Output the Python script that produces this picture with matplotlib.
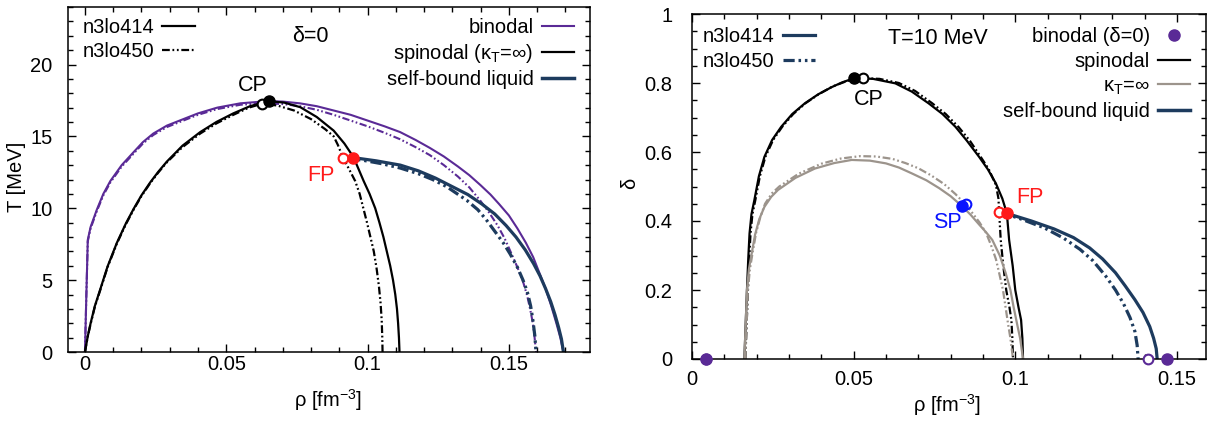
import matplotlib
matplotlib.use("Agg")
import matplotlib.pyplot as plt
from matplotlib.lines import Line2D
from matplotlib.ticker import MultipleLocator, FuncFormatter

plt.rcParams['font.family'] = ['Liberation Sans', 'DejaVu Sans']
plt.rcParams['mathtext.default'] = 'regular'

# ---------------- Left panel data: delta = 0, (rho [fm^-3], T [MeV]) ----------------
binodal414_rho = [0.0, 0.0005, 0.001, 0.002, 0.0042, 0.0065, 0.009, 0.013, 0.0172, 0.0205, 0.0242,
                  0.029, 0.0348, 0.040, 0.0468, 0.055, 0.0645, 0.070, 0.076, 0.082, 0.088, 0.094,
                  0.100, 0.106, 0.1115, 0.117, 0.122, 0.127, 0.132, 0.136, 0.140, 0.1435, 0.1465,
                  0.150, 0.153, 0.156, 0.1586, 0.161, 0.163, 0.165, 0.1668, 0.1682, 0.1693]
binodal414_T = [0.0, 4.0, 7.8, 8.7, 9.9, 11.0, 11.9, 13.0, 13.9, 14.6, 15.2,
                15.75, 16.2, 16.6, 17.0, 17.3, 17.45, 17.42, 17.3, 17.1, 16.8, 16.5,
                16.1, 15.7, 15.3, 14.75, 14.2, 13.6, 12.9, 12.3, 11.6, 10.95, 10.3,
                9.5, 8.6, 7.6, 6.6, 5.4, 4.4, 3.2, 2.0, 1.0, 0.0]
binodal450_rho = [0.0, 0.0005, 0.001, 0.002, 0.0042, 0.0065, 0.009, 0.013, 0.0172, 0.0205, 0.0242,
                  0.029, 0.0348, 0.040, 0.0468, 0.055, 0.063, 0.070, 0.076, 0.082, 0.088, 0.094,
                  0.100, 0.106, 0.1115, 0.117, 0.122, 0.127, 0.132, 0.136, 0.1398, 0.143, 0.146,
                  0.1485, 0.151, 0.153, 0.155, 0.1565, 0.1575, 0.1585, 0.159, 0.1596]
binodal450_T = [0.0, 4.0, 7.7, 8.6, 9.8, 10.9, 11.8, 12.9, 13.8, 14.5, 15.1,
                15.65, 16.1, 16.5, 16.9, 17.2, 17.3, 17.25, 17.1, 16.85, 16.5, 16.1,
                15.7, 15.25, 14.8, 14.25, 13.7, 13.0, 12.2, 11.45, 10.55, 9.7, 8.8,
                7.9, 6.8, 5.9, 4.9, 3.9, 3.0, 2.0, 1.2, 0.0]
spin414_rho = [0.0, 0.001, 0.002, 0.0035, 0.0054, 0.008, 0.0113, 0.0145, 0.0172, 0.020, 0.0231,
               0.026, 0.029, 0.0345, 0.0408, 0.0465, 0.0525, 0.0584, 0.065, 0.0705, 0.0762,
               0.082, 0.088, 0.0918, 0.095, 0.0986, 0.1007, 0.1027, 0.1042, 0.1056, 0.1068,
               0.108, 0.109, 0.1098, 0.1104, 0.1108, 0.1111, 0.1113]
spin414_T = [0.0, 1.1, 2.0, 3.2, 4.35, 5.95, 7.6, 8.95, 9.95, 10.9, 11.8,
             12.55, 13.25, 14.35, 15.3, 16.0, 16.6, 17.1, 17.45, 17.35, 17.03,
             16.35, 15.4, 14.5, 13.56, 11.9, 11.0, 10.0, 9.0, 8.0, 7.0,
             6.0, 5.0, 4.0, 3.0, 2.0, 1.0, 0.0]
spin450_rho = [0.0, 0.001, 0.002, 0.0035, 0.0054, 0.008, 0.0113, 0.0145, 0.0172, 0.020, 0.0231,
               0.026, 0.029, 0.0345, 0.0408, 0.0465, 0.0525, 0.058, 0.0626, 0.068, 0.074,
               0.080, 0.085, 0.088, 0.0895, 0.0913, 0.0935, 0.0956, 0.0972, 0.0985, 0.0998,
               0.101, 0.1022, 0.1032, 0.1040, 0.1046, 0.105, 0.1052, 0.1053]
spin450_T = [0.0, 1.1, 1.95, 3.15, 4.3, 5.9, 7.55, 8.9, 9.9, 10.85, 11.75,
             12.5, 13.2, 14.25, 15.2, 15.9, 16.5, 17.0, 17.27, 17.15, 16.8,
             16.2, 15.5, 15.0, 14.4, 13.52, 12.7, 11.9, 11.0, 10.0, 9.0,
             8.0, 7.0, 5.8, 4.6, 3.4, 2.2, 1.0, 0.0]
sbl414_rho = [0.095, 0.103, 0.1116, 0.118, 0.124, 0.130, 0.1355, 0.1404, 0.145, 0.149, 0.1525,
              0.1558, 0.1587, 0.161, 0.163, 0.1648, 0.1663, 0.1676, 0.1686, 0.1693]
sbl414_T = [13.52, 13.3, 13.0, 12.6, 12.1, 11.5, 10.95, 10.3, 9.6, 8.8, 8.0,
            7.1, 6.16, 5.3, 4.4, 3.5, 2.6, 1.7, 0.9, 0.0]
sbl450_rho = [0.0913, 0.098, 0.105, 0.1115, 0.118, 0.123, 0.128, 0.1351, 0.139, 0.142, 0.145,
              0.148, 0.1505, 0.153, 0.155, 0.1565, 0.1577, 0.1585, 0.1592, 0.1596]
sbl450_T = [13.52, 13.35, 13.1, 12.8, 12.4, 12.0, 11.5, 10.55, 9.9, 9.2, 8.4,
            7.6, 6.8, 5.9, 5.0, 4.2, 3.2, 2.2, 1.1, 0.0]
cp_left_rho = [0.065, 0.0626]   # n3lo414 (filled), n3lo450 (open)
cp_left_T = [17.45, 17.27]
fp_left_rho = [0.095, 0.0913]
fp_left_T = [13.52, 13.52]

# ---------------- Right panel data: T = 10 MeV, (rho [fm^-3], delta) ----------------
spinR414_rho = [0.0162, 0.0166, 0.0170, 0.0174, 0.0178, 0.0184, 0.0193, 0.0207, 0.0224, 0.0248,
                0.0276, 0.031, 0.0349, 0.039, 0.0432, 0.0465, 0.0502, 0.056, 0.0629, 0.068,
                0.0732, 0.0775, 0.0815, 0.085, 0.0888, 0.0915, 0.094, 0.096, 0.0974, 0.0981,
                0.0992, 0.1000, 0.1010, 0.1018, 0.1022, 0.1024]
spinR414_d = [0.0, 0.1, 0.2, 0.29, 0.364, 0.42, 0.461, 0.53, 0.586, 0.635,
              0.673, 0.71, 0.741, 0.767, 0.788, 0.802, 0.814, 0.812, 0.799, 0.775,
              0.741, 0.71, 0.673, 0.633, 0.586, 0.55, 0.509, 0.465, 0.422, 0.345,
              0.27, 0.2, 0.15, 0.113, 0.06, 0.0]
spinR450_rho = [0.0165, 0.0169, 0.0173, 0.0177, 0.0181, 0.0187, 0.0196, 0.021, 0.0227, 0.0251,
                0.0279, 0.0313, 0.0352, 0.0393, 0.0435, 0.048, 0.0528, 0.058, 0.064, 0.069,
                0.0742, 0.0785, 0.0825, 0.086, 0.0893, 0.0918, 0.094, 0.0948, 0.095, 0.0955,
                0.0963, 0.0972, 0.0982, 0.0988, 0.0991, 0.0993]
spinR450_d = [0.0, 0.1, 0.2, 0.29, 0.364, 0.42, 0.461, 0.53, 0.586, 0.635,
              0.673, 0.71, 0.742, 0.768, 0.79, 0.806, 0.814, 0.812, 0.80, 0.777,
              0.742, 0.71, 0.672, 0.632, 0.586, 0.55, 0.505, 0.465, 0.427, 0.345,
              0.27, 0.2, 0.15, 0.113, 0.06, 0.0]
kT414_rho = [0.0162, 0.0166, 0.0170, 0.0176, 0.0183, 0.0195, 0.0208, 0.0224, 0.0245, 0.0266,
             0.032, 0.038, 0.044, 0.0494, 0.055, 0.060, 0.064, 0.068, 0.0725, 0.0765, 0.080,
             0.0834, 0.0862, 0.0888, 0.091, 0.0929, 0.0952, 0.097, 0.0985, 0.0995, 0.1006,
             0.1015, 0.1024]
kT414_d = [0.0, 0.1, 0.2, 0.26, 0.297, 0.36, 0.405, 0.441, 0.47, 0.49,
           0.525, 0.552, 0.568, 0.577, 0.575, 0.567, 0.555, 0.538, 0.518, 0.495, 0.472,
           0.444, 0.418, 0.39, 0.367, 0.345, 0.3, 0.25, 0.2, 0.15, 0.1,
           0.06, 0.0]
kT450_rho = [0.0165, 0.0169, 0.0173, 0.0179, 0.0186, 0.0198, 0.0211, 0.0226, 0.0247, 0.027,
             0.033, 0.040, 0.046, 0.052, 0.057, 0.062, 0.066, 0.070, 0.074, 0.078, 0.0815,
             0.0848, 0.087, 0.089, 0.091, 0.0925, 0.094, 0.095, 0.0962, 0.097, 0.0978,
             0.0985, 0.0993]
kT450_d = [0.0, 0.1, 0.2, 0.26, 0.3, 0.365, 0.41, 0.45, 0.48, 0.5,
           0.537, 0.566, 0.581, 0.588, 0.587, 0.58, 0.568, 0.553, 0.532, 0.507, 0.478,
           0.446, 0.42, 0.395, 0.365, 0.33, 0.29, 0.25, 0.2, 0.15, 0.1,
           0.06, 0.0]
sblR414_rho = [0.0974, 0.105, 0.112, 0.118, 0.123, 0.127, 0.131, 0.134, 0.137, 0.1395, 0.1416,
               0.1428, 0.1436, 0.1439]
sblR414_d = [0.422, 0.400, 0.377, 0.352, 0.322, 0.290, 0.250, 0.212, 0.172, 0.135, 0.094,
             0.06, 0.03, 0.0]
sblR450_rho = [0.095, 0.102, 0.109, 0.115, 0.120, 0.124, 0.128, 0.131, 0.1335, 0.1355, 0.137,
               0.1377, 0.138]
sblR450_d = [0.427, 0.405, 0.38, 0.35, 0.318, 0.285, 0.24, 0.2, 0.16, 0.12, 0.08,
             0.04, 0.0]
binR414_rho = [0.0044, 0.1469]
binR450_rho = [0.0044, 0.1412]
binR_d = [0.0, 0.0]
cp_right_rho = [0.0502, 0.0528]
cp_right_d = [0.814, 0.814]
fp_right_rho = [0.0974, 0.095]
fp_right_d = [0.422, 0.427]
sp_right_rho = [0.0834, 0.0848]
sp_right_d = [0.444, 0.448]

PURPLE = '#5a2a96'
NAVY = '#1d3b5e'
GRAY = '#9c948c'
BLACK = 'black'
RED = '#ff1a1a'
BLUE = '#0a14ff'
DD = (3.5, 1.2, 0.8, 1.2, 0.8, 1.2)
FS = 14.5

fig = plt.figure(figsize=(12.17, 4.21), dpi=100)
axL = fig.add_axes([68 / 1217, 69 / 421, 522 / 1217, 345 / 421])
axR = fig.add_axes([692 / 1217, 62 / 421, 514 / 1217, 345 / 421])

gfmt = FuncFormatter(lambda v, p: '%g' % round(v, 6))


def style(ax, xmaj, xmin, ymaj, ymin, ypad, xpad):
    ax.xaxis.set_major_locator(MultipleLocator(xmaj))
    ax.xaxis.set_minor_locator(MultipleLocator(xmin))
    ax.yaxis.set_major_locator(MultipleLocator(ymaj))
    ax.yaxis.set_minor_locator(MultipleLocator(ymin))
    ax.xaxis.set_major_formatter(gfmt)
    ax.yaxis.set_major_formatter(gfmt)
    ax.tick_params(which='both', direction='in', top=True, right=True, labelsize=FS, width=1)
    ax.tick_params(which='major', length=6)
    ax.tick_params(which='minor', length=3.5)
    ax.tick_params(axis='y', which='major', pad=ypad)
    ax.tick_params(axis='x', which='major', pad=xpad)
    for s in ax.spines.values():
        s.set_linewidth(1.1)


# ---- left panel ----
ax = axL
ax.plot(binodal414_rho, binodal414_T, color=PURPLE, lw=1.5)
ax.plot(binodal450_rho, binodal450_T, color=PURPLE, lw=1.5, dashes=DD)
ax.plot(spin414_rho, spin414_T, color=BLACK, lw=1.6)
ax.plot(spin450_rho, spin450_T, color=BLACK, lw=1.6, dashes=DD)
ax.plot(sbl414_rho, sbl414_T, color=NAVY, lw=2.3)
ax.plot(sbl450_rho, sbl450_T, color=NAVY, lw=2.3, dashes=DD)
ax.plot(cp_left_rho[1:], cp_left_T[1:], 'o', ms=7, mfc='white', mec=BLACK, mew=1.5)
ax.plot(cp_left_rho[:1], cp_left_T[:1], 'o', ms=8, color=BLACK)
ax.plot(fp_left_rho[1:], fp_left_T[1:], 'o', ms=7, mfc='white', mec=RED, mew=1.5)
ax.plot(fp_left_rho[:1], fp_left_T[:1], 'o', ms=8, color=RED)
ax.text(0.0595, 18.55, 'CP', fontsize=FS + 1, ha='center', va='center', color=BLACK)
ax.text(0.0835, 12.25, 'FP', fontsize=FS + 1, ha='center', va='center', color=RED)
ax.text(0.464, 0.915, 'δ=0', transform=ax.transAxes, fontsize=FS + 1, ha='center', va='center')
ax.set_xlim(-0.006, 0.1787)
ax.set_ylim(0, 24)
style(ax, 0.05, 0.01, 5, 1, 11, 2)
ax.set_xlabel('ρ [fm$^{-3}$]', fontsize=FS, va='center')
ax.xaxis.set_label_coords(0.498, -0.139)
ax.set_ylabel('T [MeV]', fontsize=FS, va='center')
ax.yaxis.set_label_coords(-0.098, 0.507)

hl = [Line2D([], [], color=BLACK, lw=1.6), Line2D([], [], color=BLACK, lw=1.6, dashes=DD)]
leg1 = ax.legend(hl, ['n3lo414', 'n3lo450'], loc='upper left', bbox_to_anchor=(0.028, 0.968),
                 frameon=False, markerfirst=False, fontsize=FS, handlelength=1.6,
                 handletextpad=0.4, labelspacing=0.25, borderpad=0, borderaxespad=0)
ax.add_artist(leg1)
hr = [Line2D([], [], color=PURPLE, lw=1.5), Line2D([], [], color=BLACK, lw=1.6),
      Line2D([], [], color=NAVY, lw=2.5)]
ax.legend(hr, ['binodal', 'spinodal (κ$_T$=∞)', 'self-bound liquid'], loc='upper right',
          bbox_to_anchor=(0.969, 0.968), frameon=False, markerfirst=False, fontsize=FS,
          handlelength=1.6, handletextpad=0.4, labelspacing=0.25, borderpad=0, borderaxespad=0)

# ---- right panel ----
ax = axR
ax.plot(spinR414_rho, spinR414_d, color=BLACK, lw=1.6)
ax.plot(spinR450_rho, spinR450_d, color=BLACK, lw=1.6, dashes=DD)
ax.plot(kT414_rho, kT414_d, color=GRAY, lw=1.6)
ax.plot(kT450_rho, kT450_d, color=GRAY, lw=1.6, dashes=DD)
ax.plot(sblR414_rho, sblR414_d, color=NAVY, lw=2.3)
ax.plot(sblR450_rho, sblR450_d, color=NAVY, lw=2.3, dashes=DD)
ax.plot(binR450_rho, binR_d, 'o', ms=7, mfc='white', mec=PURPLE, mew=1.5, clip_on=False, zorder=5)
ax.plot(binR414_rho, binR_d, 'o', ms=8, color=PURPLE, clip_on=False, zorder=6)
ax.plot(cp_right_rho[1:], cp_right_d[1:], 'o', ms=7, mfc='white', mec=BLACK, mew=1.5)
ax.plot(cp_right_rho[:1], cp_right_d[:1], 'o', ms=8, color=BLACK)
ax.plot(fp_right_rho[1:], fp_right_d[1:], 'o', ms=7, mfc='white', mec=RED, mew=1.5)
ax.plot(fp_right_rho[:1], fp_right_d[:1], 'o', ms=8, color=RED)
ax.plot(sp_right_rho[1:], sp_right_d[1:], 'o', ms=7, mfc='white', mec=BLUE, mew=1.5)
ax.plot(sp_right_rho[:1], sp_right_d[:1], 'o', ms=8, color=BLUE)
ax.text(0.0547, 0.752, 'CP', fontsize=FS + 1, ha='center', va='center', color=BLACK)
ax.text(0.0789, 0.397, 'SP', fontsize=FS + 1, ha='center', va='center', color=BLUE)
ax.text(0.1045, 0.468, 'FP', fontsize=FS + 1, ha='center', va='center', color=RED)
ax.text(0.479, 0.928, 'T=10 MeV', transform=ax.transAxes, fontsize=FS + 1, ha='center', va='center')
ax.set_xlim(0, 0.159)
ax.set_ylim(0, 1)
style(ax, 0.05, 0.01, 0.2, 0.05, 14, 8)
ax.set_xlabel('ρ [fm$^{-3}$]', fontsize=FS, va='center')
ax.xaxis.set_label_coords(0.496, -0.133)
ax.set_ylabel('δ', fontsize=FS, va='center')
ax.yaxis.set_label_coords(-0.121, 0.51)

hl = [Line2D([], [], color=NAVY, lw=2.3), Line2D([], [], color=NAVY, lw=2.3, dashes=DD)]
leg2 = ax.legend(hl, ['n3lo414', 'n3lo450'], loc='upper left', bbox_to_anchor=(0.021, 0.962),
                 frameon=False, markerfirst=False, fontsize=FS, handlelength=1.6,
                 handletextpad=0.4, labelspacing=0.28, borderpad=0, borderaxespad=0)
ax.add_artist(leg2)
hr = [Line2D([], [], ls='none', marker='o', ms=8, color=PURPLE), Line2D([], [], color=BLACK, lw=1.6),
      Line2D([], [], color=GRAY, lw=1.6), Line2D([], [], color=NAVY, lw=2.5)]
ax.legend(hr, ['binodal (δ=0)', 'spinodal', 'κ$_T$=∞', 'self-bound liquid'], loc='upper right',
          bbox_to_anchor=(0.969, 0.962), frameon=False, markerfirst=False, fontsize=FS,
          handlelength=1.6, handletextpad=0.4, labelspacing=0.28, borderpad=0, borderaxespad=0)

fig.savefig('out.png', dpi=100)
